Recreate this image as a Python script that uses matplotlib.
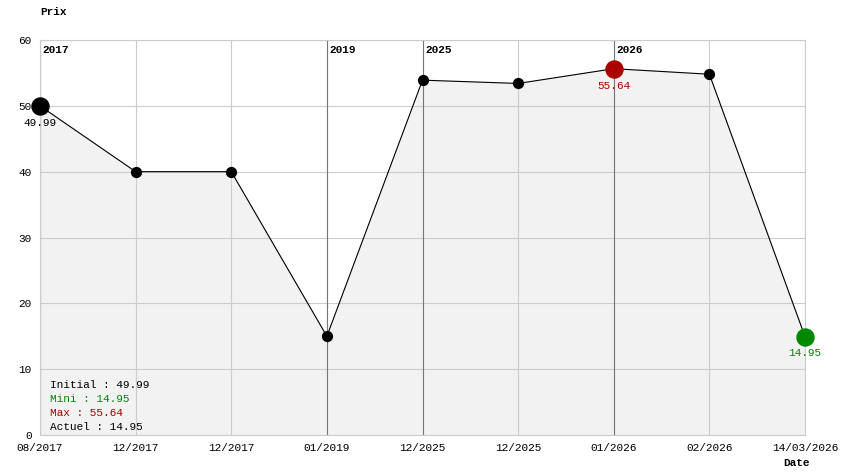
import matplotlib
matplotlib.use('Agg')
import matplotlib.pyplot as plt

dates = ['08/2017', '12/2017', '12/2017', '01/2019', '12/2025', '12/2025', '01/2026', '02/2026', '14/03/2026']
prices = [49.99, 40.0, 40.0, 15.0, 53.9, 53.4, 55.64, 54.8, 14.95]
year_idx = [0, 3, 4, 6]
year_labels = ['2017', '2019', '2025', '2026']

plt.rcParams['font.family'] = ['Liberation Mono', 'DejaVu Sans Mono']
plt.rcParams['font.size'] = 8

W, H = 844, 474
fig = plt.figure(figsize=(W / 100, H / 100), dpi=100)
ax = fig.add_axes([40 / W, (H - 435) / H, 765 / W, 395 / H])

x = list(range(len(prices)))
ax.fill_between(x, prices, 0, color='#f2f2f2', zorder=0)
ax.plot(x, prices, color='black', lw=0.8, zorder=3)
ax.scatter(x[1:-1], prices[1:-1], s=50, color='black', zorder=4)
ax.scatter([0], [prices[0]], s=150, color='black', zorder=5, clip_on=False)
imax = prices.index(max(prices))
imin = prices.index(min(prices))
ax.scatter([imax], [prices[imax]], s=150, color='#aa0000', zorder=5, clip_on=False)
ax.scatter([imin], [prices[imin]], s=150, color='#008800', zorder=5, clip_on=False)

ax.text(0, prices[0] - 1.8, '%.2f' % prices[0], ha='center', va='top', color='black')
ax.text(imax, prices[imax] - 1.8, '%.2f' % prices[imax], ha='center', va='top', color='#aa0000')
ax.text(imin, prices[imin] - 1.8, '%.2f' % prices[imin], ha='center', va='top', color='#008800')

for i, lab in zip(year_idx, year_labels):
    ax.axvline(i, color='#777777', lw=0.8, zorder=1)
    ax.text(i + 0.03, 58.5, lab, fontweight='bold', va='center', ha='left')

ax.set_xlim(0, len(prices) - 1)
ax.set_ylim(0, 60)
ax.set_xticks(x)
ax.set_xticklabels(dates)
ax.set_yticks(range(0, 61, 10))
ax.grid(True, color='#cccccc', lw=0.8, zorder=0)
ax.set_axisbelow(True)
for s in ax.spines.values():
    s.set_color('#cccccc')
ax.tick_params(length=0, pad=6)

fig.text(40 / W, (H - 12) / H, 'Prix', fontweight='bold', ha='left', va='center')
fig.text(783 / W, (H - 463) / H, 'Date', fontweight='bold', ha='left', va='center')

info = [('Initial : %.2f' % prices[0], 'black'),
        ('Mini : %.2f' % min(prices), '#008800'),
        ('Max : %.2f' % max(prices), '#aa0000'),
        ('Actuel : %.2f' % prices[-1], 'black')]
for k, (t, c) in enumerate(info):
    fig.text(50 / W, (H - 385 - k * 14) / H, t, color=c, ha='left', va='center')

fig.savefig('out.png', dpi=100)
